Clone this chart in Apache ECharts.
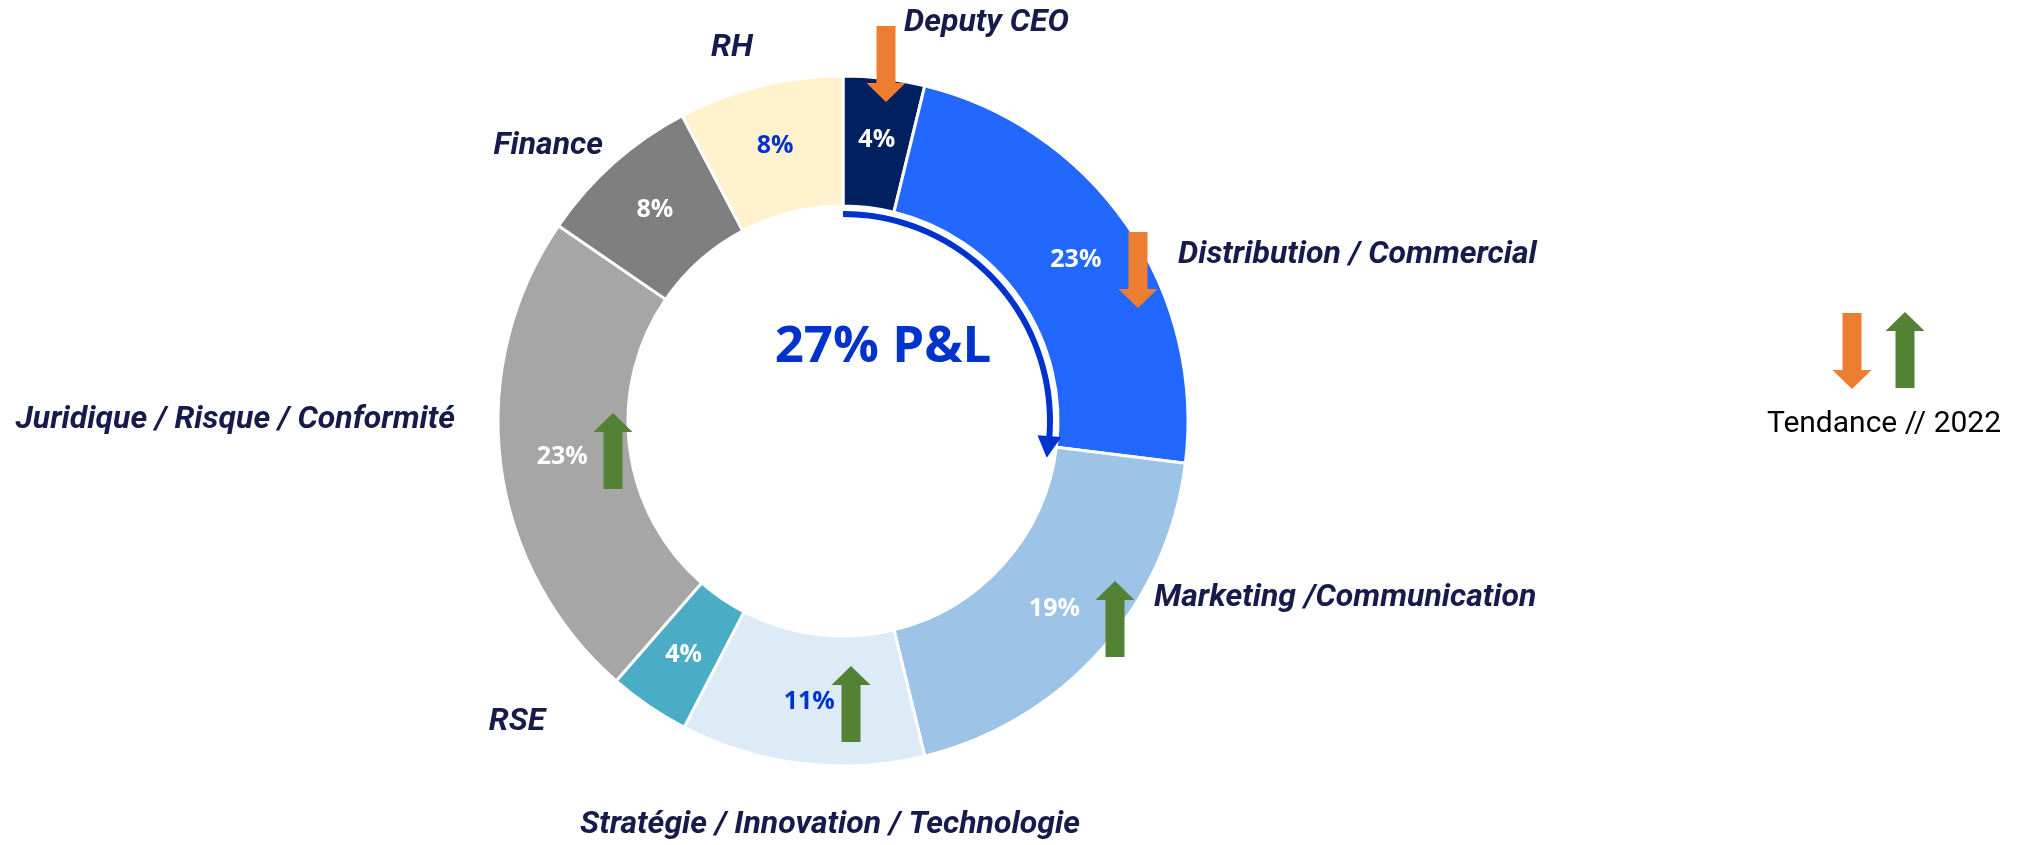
<!DOCTYPE html>
<html>
<head>
<meta charset="utf-8">
<script src="https://cdn.jsdelivr.net/npm/echarts@6/dist/echarts.min.js"></script>
<style>
  html, body { margin: 0; background: #fff; }
  #chart { width: 2028px; height: 845px; }
</style>
</head>
<body>
<div id="chart"></div>
<script>
// data
const categories = [
  "Deputy CEO",
  "Distribution / Commercial",
  "Marketing /Communication",
  "Stratégie / Innovation / Technologie",
  "RSE",
  "Juridique / Risque / Conformité",
  "Finance",
  "RH",
];
const shares = [3.8, 23.1, 19.2, 11.4, 3.8, 23.1, 7.7, 7.7];
const trends = ["down", "down", "up", "up", null, "up", null, null];
const pnlShare = 27;
const pnlLabel = "27% P&L";
const legendLabel = "Tendance // 2022";

// styles / layout
const sliceColors = ["#002060", "#2268FF", "#9DC3E6", "#DDEBF7", "#4BACC6", "#A6A6A6", "#7F7F7F", "#FFF2CC"];
const valueColors = ["#fff", "#fff", "#fff", "#0033CC", "#fff", "#fff", "#fff", "#0033CC"];
const CX = 843, CY = 421;
// name label anchor, relative to the centre
const nameSpots = [
  [61, -398, "left"],
  [335, -166, "left"],
  [311, 177, "left"],
  [-13, 404, "center"],
  [-326, 301, "center"],
  [-388, -1, "right"],
  [-240, -275, "right"],
  [-111, -373, "center"],
];
// trend arrow centre, relative to the centre
const arrowSpots = [[43, -357], [295, -151], [272, 198], [8, 283], null, [-230, 30], null, null];

const ORANGE = "#ED7D31", GREEN = "#548235", BLUE = "#0033CC";

function arrowShape(x, y, dir, color) {
  const s = dir === "up" ? 1 : -1;
  const L = 38, H = 19, hw = 19.5, sw = 9.5;
  const pts = [
    [x, y - s * L],
    [x + hw, y - s * (L - H)],
    [x + sw, y - s * (L - H)],
    [x + sw, y + s * L],
    [x - sw, y + s * L],
    [x - sw, y - s * (L - H)],
    [x - hw, y - s * (L - H)],
  ];
  return { type: "polygon", z: 100, shape: { points: pts }, style: { fill: color } };
}

function polar(deg, r) {
  const a = (deg * Math.PI) / 180;
  return [CX + r * Math.sin(a), CY - r * Math.cos(a)];
}

const graphics = [];
trends.forEach((t, i) => {
  if (!t || !arrowSpots[i]) return;
  graphics.push(arrowShape(CX + arrowSpots[i][0], CY + arrowSpots[i][1], t, t === "up" ? GREEN : ORANGE));
});
graphics.push(arrowShape(1852, 351, "down", ORANGE));
graphics.push(arrowShape(1905, 350, "up", GREEN));
graphics.push({
  type: "text", z: 100, x: 1884, y: 424,
  style: { text: legendLabel, font: "400 30px Roboto", fill: "#000", align: "center", verticalAlign: "middle" },
});
graphics.push({
  type: "text", z: 100, x: 883, y: 347,
  style: { text: pnlLabel, font: "700 51px 'Open Sans'", fill: BLUE, align: "center", verticalAlign: "middle" },
});

// arrow head at the end of the P&L arc
const endDeg = pnlShare * 3.6;
const rArc = 207;
const b1 = polar(endDeg - 3, rArc - 12);
const b2 = polar(endDeg - 3, rArc + 12);
const tip = polar(endDeg + 3, rArc);
graphics.push({ type: "polygon", z: 100, shape: { points: [b1, b2, tip] }, style: { fill: BLUE } });

const chart = echarts.init(document.getElementById("chart"));
chart.setOption({
  backgroundColor: "#fff",
  animation: false,
  graphic: graphics,
  series: [
    {
      type: "pie",
      center: [CX, CY],
      radius: [215, 345],
      startAngle: 90,
      silent: true,
      data: categories.map((name, i) => ({
        name,
        value: shares[i],
        itemStyle: { color: sliceColors[i] },
        label: { color: valueColors[i] },
      })),
      itemStyle: { borderColor: "#fff", borderWidth: 3 },
      label: {
        position: "inside",
        formatter: (p) => Math.round(p.percent) + "%",
        fontFamily: "Open Sans",
        fontWeight: 700,
        fontSize: 25,
      },
      labelLine: { show: false },
    },
    {
      type: "pie",
      center: [CX, CY],
      radius: [215, 345],
      startAngle: 90,
      silent: true,
      z: 1,
      data: categories.map((name, i) => ({ name, value: shares[i] })),
      itemStyle: { color: "rgba(0,0,0,0)", borderWidth: 0 },
      label: {
        position: "outside",
        formatter: "{b}",
        fontFamily: "Roboto",
        fontStyle: "italic",
        fontWeight: 700,
        fontSize: 32,
        color: "#161B4C",
      },
      labelLine: { show: false },
      labelLayout: (p) => {
        const s = nameSpots[p.dataIndex];
        return { x: CX + s[0], y: CY + s[1], align: s[2], verticalAlign: "middle" };
      },
    },
    {
      type: "pie",
      center: [CX, CY],
      radius: [204, 210],
      startAngle: 90,
      silent: true,
      data: [
        { value: pnlShare, itemStyle: { color: BLUE } },
        { value: 100 - pnlShare, itemStyle: { color: "rgba(0,0,0,0)" } },
      ],
      label: { show: false },
      labelLine: { show: false },
    },
  ],
});
</script>
</body>
</html>
